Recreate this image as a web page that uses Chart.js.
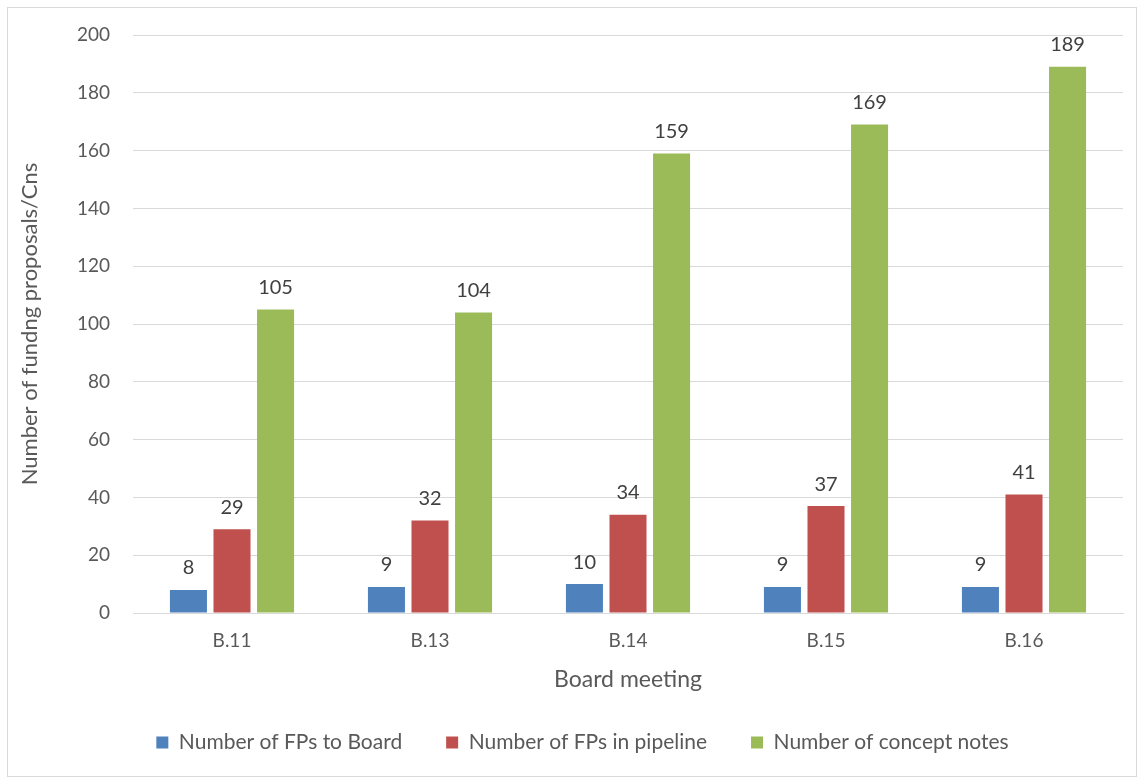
<!DOCTYPE html>
<html>
<head>
<meta charset="utf-8">
<script src="https://cdn.jsdelivr.net/npm/chart.js@4"></script>
<style>
  html, body { margin: 0; padding: 0; background: #fff; }
  #box { position: absolute; left: 7px; top: 7px; width: 1128px; height: 768px; border: 1px solid #d9d9d9; }
  canvas { display: block; }
</style>
</head>
<body>
<div id="box"><canvas id="chart" width="1128" height="768"></canvas></div>
<script>
// ---------- data ----------
const meetings = ['B.11', 'B.13', 'B.14', 'B.15', 'B.16'];
const fpsToBoard = [8, 9, 10, 9, 9];
const fpsInPipeline = [29, 32, 34, 37, 41];
const conceptNotes = [105, 104, 159, 169, 189];

const FONT = 'Lato, "Open Sans", sans-serif';

// value labels above each bar
const barLabels = {
    id: 'barLabels',
    afterDatasetsDraw(chart) {
        const ctx = chart.ctx;
        ctx.save();
        ctx.font = '20px ' + FONT;
        ctx.fillStyle = '#404040';
        ctx.textAlign = 'center';
        ctx.textBaseline = 'bottom';
        chart.data.datasets.forEach((ds, i) => {
            chart.getDatasetMeta(i).data.forEach((bar, j) => {
                ctx.fillText(ds.data[j], bar.x, bar.y - 12);
            });
        });
        ctx.restore();
    }
};

// nudge the legend a bit to the right, like the original
const legendShift = {
    id: 'legendShift',
    afterLayout(chart) {
        chart.legend.left += 17;
        chart.legend.right += 17;
    }
};

new Chart(document.getElementById('chart'), {
    type: 'bar',
    data: {
        labels: meetings,
        datasets: [
            { label: 'Number of FPs to Board', data: fpsToBoard, backgroundColor: '#4F81BD' },
            { label: 'Number of FPs in pipeline', data: fpsInPipeline, backgroundColor: '#C0504D' },
            { label: 'Number of concept notes', data: conceptNotes, backgroundColor: '#9BBB59' }
        ]
    },
    options: {
        responsive: false,
        animation: false,
        barPercentage: 0.85,
        categoryPercentage: 0.66,
        layout: { padding: { top: 0, right: 13, bottom: 13, left: 0 } },
        scales: {
            x: {
                grid: { display: false },
                border: { color: '#d9d9d9' },
                ticks: { color: '#595959', font: { family: FONT, size: 19 }, padding: 8 },
                title: {
                    display: true, text: 'Board meeting', color: '#595959',
                    font: { family: FONT, size: 23 }, padding: { top: 0, bottom: -5 }
                },
                afterFit(scale) { scale.height = 75; }
            },
            y: {
                min: 0, max: 200,
                ticks: { stepSize: 20, color: '#595959', font: { family: FONT, size: 19 }, padding: 23 },
                grid: { color: '#d9d9d9', drawTicks: false },
                border: { display: false },
                title: {
                    display: true, text: 'Number of fundng proposals/Cns', color: '#595959',
                    font: { family: FONT, size: 22 }, padding: { top: 9, bottom: 4 }
                },
                afterFit(scale) {
                    scale.width = 125;
                    scale.paddingTop = 27;
                }
            }
        },
        plugins: {
            legend: {
                position: 'bottom',
                labels: {
                    color: '#595959',
                    font: { family: FONT, size: 21 },
                    boxWidth: 12, boxHeight: 12,
                    padding: 44
                }
            },
            tooltip: { enabled: false }
        }
    },
    plugins: [barLabels, legendShift]
});
</script>
</body>
</html>
